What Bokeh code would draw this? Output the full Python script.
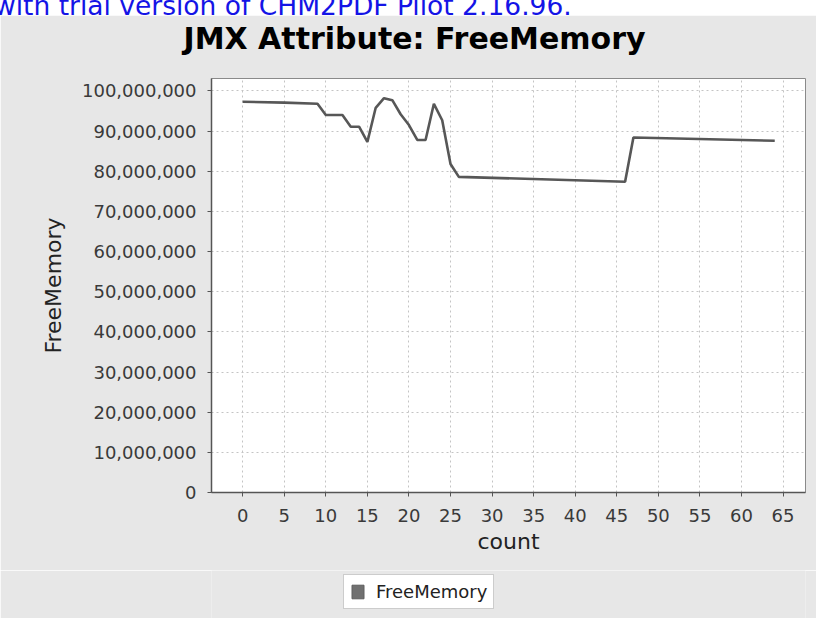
from bokeh.plotting import figure
from bokeh.layouts import column
from bokeh.models import (ColumnDataSource, Range1d, SingleIntervalTicker, NumeralTickFormatter,
                          Legend, LegendItem, Div, Title)
from bokeh.embed import file_html
from bokeh.resources import INLINE

# ---- data ----
counts = [0, 5, 9, 10, 12, 13, 14, 15, 16, 17, 18, 19, 20, 21, 22, 23, 24, 25, 26, 46, 47, 64]
free_memory = [97.3e6, 97.1e6, 96.8e6, 94.0e6, 94.0e6, 91.1e6, 91.1e6, 87.3e6, 95.8e6, 98.2e6,
               97.7e6, 94.2e6, 91.5e6, 87.8e6, 87.8e6, 96.8e6, 92.7e6, 81.8e6, 78.6e6, 77.4e6,
               88.4e6, 87.6e6]
title_text = "JMX Attribute: FreeMemory"
x_label = "count"
y_label = "FreeMemory"
series_name = "FreeMemory"
watermark = "with trial version of CHM2PDF Pilot 2.16.96."

FONT = "DejaVu Sans"
PANEL = "#e7e7e7"
W = 816

# ---- top strip with the watermark ----
top = Div(text=watermark, width=W, height=15, margin=0,
          styles={"font-family": "DejaVu Sans", "font-size": "26.5px", "color": "#1414e6",
                  "line-height": "12px", "white-space": "nowrap", "overflow": "hidden",
                  "background-color": "white", "text-indent": "-6px"})

# ---- main chart ----
src = ColumnDataSource(dict(x=counts, y=free_memory))
p = figure(width=W, height=555, output_backend="svg", toolbar_location=None,
           x_range=Range1d(-3.75, 67.7), y_range=Range1d(0, 103.1e6),
           min_border_left=211, min_border_right=11, min_border_top=63, min_border_bottom=78)
p.border_fill_color = PANEL
p.background_fill_color = "white"
p.outline_line_color = "#8a8a8a"
p.outline_line_width = 1

p.title.text = title_text
p.title.align = "left"
p.title.offset = -28
p.title.text_font = FONT
p.title.text_font_size = "30px"
p.title.text_font_style = "bold"
p.title.text_color = "black"
p.title.standoff = 0
# blank spacer between the title and the plot area
p.add_layout(Title(text=" ", text_font=FONT, text_font_size="18px", standoff=0), "above")

line_r = p.line("x", "y", source=src, line_color="#575757", line_width=2.6)

p.xaxis.ticker = SingleIntervalTicker(interval=5)
p.yaxis.ticker = SingleIntervalTicker(interval=10e6)
p.yaxis.formatter = NumeralTickFormatter(format="0,0")
for ax in (p.xaxis, p.yaxis):
    ax.minor_tick_line_color = None
    ax.major_tick_in = 0
    ax.major_tick_out = 4
    ax.major_tick_line_color = "#555555"
    ax.axis_line_color = "#555555"
    ax.axis_line_width = 1.5
    ax.major_label_text_font = FONT
    ax.major_label_text_font_size = "18px"
    ax.major_label_text_color = "#3a3a3a"
    ax.axis_label_text_font = FONT
    ax.axis_label_text_font_size = "22px"
    ax.axis_label_text_font_style = "normal"
    ax.axis_label_text_color = "#222222"
p.xaxis.axis_label = x_label
p.yaxis.axis_label = y_label
p.yaxis.major_label_standoff = 11
p.xaxis.major_label_standoff = 12
p.yaxis.axis_label_standoff = 13
p.xaxis.axis_label_standoff = 4

for g in (p.xgrid, p.ygrid):
    g.grid_line_color = "#c4c4c4"
    g.grid_line_dash = "2 3"
    g.grid_line_width = 1

# ---- bottom strip holding the legend (frame aligned with the chart's frame) ----
bot = figure(width=W, height=48, output_backend="svg", toolbar_location=None,
             x_axis_type=None, y_axis_type=None,
             min_border_left=211, min_border_right=11, min_border_top=0, min_border_bottom=0,
             x_range=Range1d(-1, 0), y_range=Range1d(-1, 0))
bot.outline_line_color = None
bot.background_fill_color = PANEL
bot.border_fill_color = PANEL
# series swatch: same series, its points all lie outside this strip's view
sw = bot.quad(left="x", right="x", top="y", bottom="y", source=src,
              fill_color="#707070", line_color="#5e5e5e")
legend = Legend(items=[LegendItem(label=series_name, renderers=[sw])],
                location=(132, 9), orientation="horizontal",
                label_text_font=FONT, label_text_font_size="18px", label_text_color="#222222",
                glyph_width=15, glyph_height=17, label_standoff=11, padding=6, margin=0,
                border_line_color="#9a9a9a", border_line_width=1,
                background_fill_color="white", background_fill_alpha=1)
bot.add_layout(legend, "center")

layout = column(top, p, bot, spacing=0)
open("out.html", "w").write(file_html(layout, INLINE))
